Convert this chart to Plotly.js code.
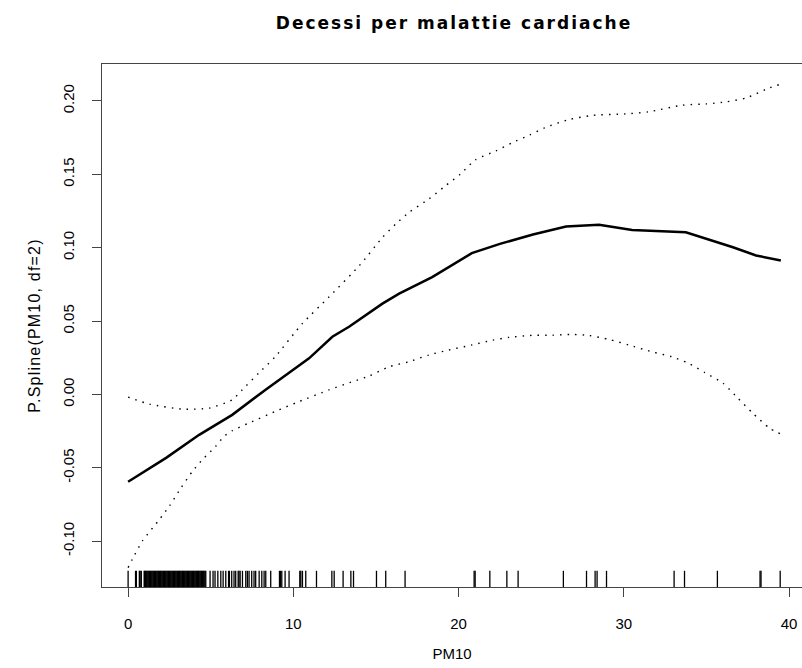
<!DOCTYPE html>
<html>
<head>
<meta charset="utf-8">
<script src="https://cdn.plot.ly/plotly-3.0.1.min.js"></script>
<style>
html, body { margin: 0; padding: 0; overflow: hidden; background: #fff; }
#chart { width: 802px; height: 668px; }
.gtitle { letter-spacing: 2px; }
.ytitle { letter-spacing: 1.2px; }
</style>
</head>
<body>
<div id="chart"></div>
<script>
// ---- data ----
const fitX = [0, 2.3, 4.3, 6.3, 8.3, 10.95, 12.36, 13.37, 15.39, 16.4, 18.4, 20.8, 22.5, 24.5, 26.5, 28.5, 30.5, 33.75, 36.6, 38.0, 39.5];
const fitY = [-0.0595, -0.0432, -0.0275, -0.0139, 0.0031, 0.0246, 0.0393, 0.0461, 0.0619, 0.0687, 0.0800, 0.0963, 0.1026, 0.1090, 0.1144, 0.1157, 0.1121, 0.1105, 0.1003, 0.0947, 0.0913];

const upperX = [0, 1.3, 3.3, 4.9, 6.3, 6.9, 7.9, 8.9, 10.55, 12.15, 14.0, 15.4, 16.2, 17.0, 18.2, 19.2, 20.1, 21.0, 22.25, 23.25, 24.3, 25.2, 26.7, 28.1, 30.1, 31.5, 33.5, 35.0, 36.2, 37.4, 38.8, 39.5];
const upperY = [-0.0018, -0.0066, -0.0100, -0.0093, -0.0037, 0.0031, 0.0145, 0.0257, 0.0484, 0.0664, 0.0879, 0.1071, 0.1162, 0.1241, 0.1332, 0.1422, 0.1501, 0.1598, 0.1659, 0.1716, 0.1768, 0.1817, 0.1874, 0.1902, 0.1912, 0.1926, 0.1971, 0.1980, 0.1994, 0.2021, 0.2089, 0.2115];

const lowerX = [0, 0.26, 0.87, 1.9, 2.5, 3.2, 3.9, 4.5, 5.3, 5.8, 6.3, 7.3, 8.9, 10.35, 12.15, 13.6, 14.6, 15.8, 17.0, 18.2, 19.4, 20.8, 22.05, 23.05, 24.3, 25.7, 26.9, 27.9, 29.1, 30.3, 31.7, 32.9, 33.85, 34.9, 36.0, 36.9, 37.8, 38.8, 39.5];
const lowerY = [-0.118, -0.1122, -0.0998, -0.0851, -0.0760, -0.0636, -0.0523, -0.0444, -0.0353, -0.0286, -0.0247, -0.0195, -0.0116, -0.0048, 0.0031, 0.0088, 0.0126, 0.0189, 0.0223, 0.0269, 0.0303, 0.0337, 0.0370, 0.0389, 0.0402, 0.0404, 0.0409, 0.0402, 0.0375, 0.0337, 0.0291, 0.0257, 0.0216, 0.0149, 0.0077, -0.0025, -0.0127, -0.0229, -0.027];

const rugPM10 = [0, 0.45, 0.5, 0.68, 0.73, 0.8, 0.97,
  1.00, 1.05, 1.10, 1.15, 1.20, 1.25, 1.30, 1.35, 1.40, 1.45, 1.50, 1.55, 1.60, 1.65, 1.70, 1.75, 1.80, 1.85, 1.90, 1.95,
  2.00, 2.05, 2.10, 2.15, 2.20, 2.25, 2.30, 2.35, 2.40, 2.45, 2.50, 2.55, 2.60, 2.65, 2.70, 2.75, 2.80, 2.85, 2.90, 2.95,
  3.00, 3.05, 3.10, 3.15, 3.20, 3.25, 3.30, 3.35, 3.40, 3.45, 3.50, 3.55, 3.60, 3.65, 3.70, 3.75, 3.80, 3.85, 3.90, 3.95,
  4.00, 4.05, 4.10, 4.15, 4.20, 4.25, 4.30, 4.35, 4.40, 4.45, 4.50, 4.55, 4.60, 4.65,
  4.70, 4.96, 5.14, 5.26, 5.43, 5.61, 5.75, 5.91, 6.08, 6.13, 6.27, 6.41, 6.51, 6.66, 6.71, 6.78, 6.92, 7.12, 7.22, 7.32,
  7.48, 7.62, 7.72, 7.93, 8.09, 8.23, 8.33, 8.63, 9.16, 9.22, 9.30, 9.50, 9.74, 10.39, 10.45, 10.55, 10.75, 11.40,
  12.33, 12.47, 13.01, 13.48, 13.64, 15.03, 15.59, 16.76, 20.94, 21.0, 21.89, 22.92, 23.60, 26.34, 27.74, 28.26,
  28.38, 28.95, 33.04, 33.67, 35.66, 38.24, 38.30, 39.46];

const xTickVals = [0, 10, 20, 30, 40];
const xTickText = ["0", "10", "20", "30", "40"];
const yTickVals = [-0.10, -0.05, 0.00, 0.05, 0.10, 0.15, 0.20];
const yTickText = ["-0.10", "-0.05", "0.00", "0.05", "0.10", "0.15", "0.20"];

const titleText = "Decessi per malattie cardiache";
const xTitle = "PM10";
const yTitle = "P.Spline(PM10, df=2)";

// ---- rug segments built from rug values ----
const rugX = [], rugY = [];
const RUG_LEN = 0.031;
rugPM10.forEach(v => { rugX.push(v, v, null); rugY.push(0, RUG_LEN, null); });

const ink = "#000000";
const dotted = { color: ink, width: 1.4, dash: "1.5px,6px", shape: "spline", smoothing: 0.6 };
const traces = [
  { x: upperX, y: upperY, mode: "lines", line: dotted, hoverinfo: "skip" },
  { x: lowerX, y: lowerY, mode: "lines", line: dotted, hoverinfo: "skip" },
  { x: fitX, y: fitY, mode: "lines", line: { color: ink, width: 2.5 }, hoverinfo: "skip" },
  { x: rugX, y: rugY, yaxis: "y2", mode: "lines", line: { color: ink, width: 1.3 }, hoverinfo: "skip", connectgaps: false }
];

const axisFont = { family: "Liberation Sans, Arial, sans-serif", size: 15, color: "#000" };
const layout = {
  width: 802, height: 668,
  margin: { l: 102, r: 0, t: 64, b: 81, pad: 0 },
  paper_bgcolor: "#fff", plot_bgcolor: "#fff",
  showlegend: false,
  title: {
    text: titleText,
    font: { family: "DejaVu Sans, sans-serif", size: 17, weight: "bold", color: "#000" },
    x: 454 / 802, xanchor: "center", xref: "container",
    y: 1 - 23 / 668, yanchor: "middle", yref: "container"
  },
  xaxis: {
    range: [-1.58, 40.78], tickvals: xTickVals, ticktext: xTickText,
    showgrid: false, zeroline: false, showline: true, mirror: true,
    linecolor: "#444", linewidth: 1, ticks: "outside", ticklen: 9, tickcolor: "#444", tickwidth: 1,
    tickfont: axisFont, ticklabelstandoff: 14,
    title: { text: xTitle, font: axisFont, standoff: 17 }
  },
  yaxis: {
    range: [-0.1312, 0.2252], tickvals: yTickVals, ticktext: yTickText, tickangle: -90,
    showgrid: false, zeroline: false, showline: true, mirror: false,
    linecolor: "#444", linewidth: 1, ticks: "outside", ticklen: 9, tickcolor: "#444", tickwidth: 1,
    tickfont: axisFont, ticklabelstandoff: 12,
    title: { text: yTitle, font: { family: "Liberation Sans, Arial, sans-serif", size: 16, color: "#000" }, standoff: 15 }
  },
  yaxis2: { overlaying: "y", range: [0, 1], visible: false, fixedrange: true }
};

Plotly.newPlot("chart", traces, layout, { staticPlot: true, displayModeBar: false });
</script>
</body>
</html>
